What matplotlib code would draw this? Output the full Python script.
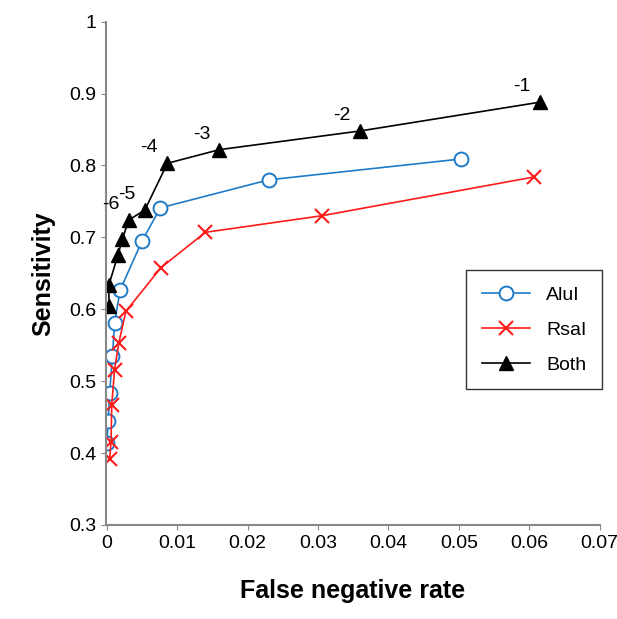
import matplotlib
matplotlib.use("Agg")
from matplotlib import pyplot as plt

plt.rcParams['font.family'] = ['Liberation Sans', 'DejaVu Sans']

alu_x = [0.0000, 0.0002, 0.0004, 0.0008, 0.0011, 0.0019, 0.0050, 0.0076, 0.0230, 0.0503]
alu_y = [0.414, 0.444, 0.484, 0.535, 0.581, 0.627, 0.695, 0.741, 0.780, 0.809]
rsa_x = [0.0004, 0.0006, 0.0007, 0.0011, 0.0017, 0.0027, 0.0077, 0.0140, 0.0305, 0.0607]
rsa_y = [0.391, 0.416, 0.467, 0.516, 0.553, 0.597, 0.658, 0.707, 0.730, 0.784]
both_x = [0.0003, 0.0003, 0.0016, 0.0022, 0.0031, 0.0054, 0.0086, 0.0160, 0.0360, 0.0615]
both_y = [0.604, 0.634, 0.676, 0.697, 0.724, 0.738, 0.803, 0.822, 0.848, 0.888]
labels = ["-1", "-2", "-3", "-4", "-5", "-6"]
label_idx = [9, 8, 7, 6, 5, 4]

fig, ax = plt.subplots(figsize=(6.17, 6.19), dpi=100)
fig.subplots_adjust(left=0.172, right=0.972, bottom=0.152, top=0.965)

ax.plot(alu_x, alu_y, color="#1f7bc8", lw=1.2, marker="o", ms=10, mfc="white", mec="#1f7bc8", mew=1.4, label="AluI")
ax.plot(rsa_x, rsa_y, color="#ff1a1a", lw=1.2, marker="x", ms=10, mew=1.5, label="RsaI")
ax.plot(both_x, both_y, color="black", lw=1.2, marker="^", ms=10, label="Both")

for lab, i in zip(labels, label_idx):
    ax.annotate(lab, (both_x[i], both_y[i]), xytext=(-13, 5), textcoords="offset points",
                fontsize=14, ha="center", va="bottom")

ax.set_xlim(-0.0001, 0.07)
ax.set_ylim(0.3, 1.0)
ax.set_xticks([0, 0.01, 0.02, 0.03, 0.04, 0.05, 0.06, 0.07])
ax.set_xticklabels(["0", "0.01", "0.02", "0.03", "0.04", "0.05", "0.06", "0.07"])
ax.set_yticks([0.3, 0.4, 0.5, 0.6, 0.7, 0.8, 0.9, 1.0])
ax.set_yticklabels(["0.3", "0.4", "0.5", "0.6", "0.7", "0.8", "0.9", "1"])
ax.tick_params(labelsize=14, direction="out", color="#888888")
for s in ["top", "right"]:
    ax.spines[s].set_visible(False)
for s in ["left", "bottom"]:
    ax.spines[s].set_color("#888888")
    ax.spines[s].set_linewidth(1.5)

ax.set_xlabel("False negative rate", fontsize=18, fontweight="bold", labelpad=20)
ax.set_ylabel("Sensitivity", fontsize=18, fontweight="bold", labelpad=10)

leg = ax.legend(loc="upper left", bbox_to_anchor=(0.71, 0.525), fontsize=14, frameon=True,
                fancybox=False, edgecolor="black", borderpad=0.8, labelspacing=0.9, handlelength=2.5)
leg.get_frame().set_linewidth(1.0)

plt.savefig("out.png", dpi=100)
